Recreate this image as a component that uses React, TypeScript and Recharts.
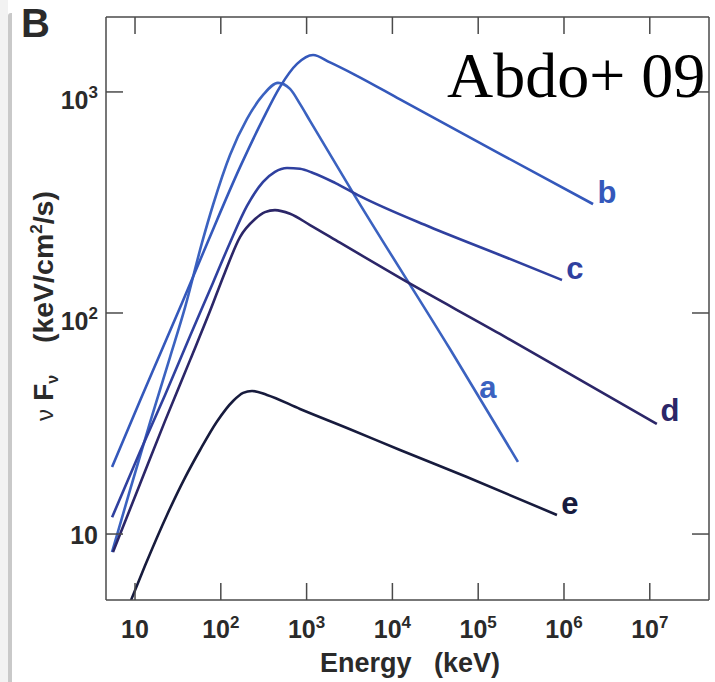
import React from 'react';
import { LineChart, Line, XAxis, YAxis } from 'recharts';

// energy (keV) / nuFnu (keV/cm^2/s)
const aEnergy = [5.4, 8.74, 15.0, 25.6, 38.3, 60.4, 81.1, 128, 202, 311, 464, 641, 837, 1096, 3664, 46900, 291000];
const aFlux = [8.29, 15.8, 32.1, 63.2, 106, 208, 308, 519, 755, 969, 1099, 1032, 883, 740, 338, 68.7, 21.2];

const bEnergy = [5.4, 11.4, 19.6, 35.3, 67.3, 168, 311, 490, 773, 1189, 1874, 3664, 12270, 179500, 2180000];
const bFlux = [20.1, 40.0, 65.2, 111, 201, 458, 755, 1054, 1339, 1469, 1360, 1195, 925, 525, 311];

const cEnergy = [5.4, 11.4, 22.4, 43.8, 81.1, 128, 202, 311, 428, 591, 837, 1189, 2143, 4190, 27420, 179500, 948000];
const cFlux = [11.9, 23.5, 42.6, 78.7, 137, 208, 305, 392, 435, 453, 449, 430, 388, 338, 245, 183, 141];

const dEnergy = [5.54, 11.4, 22.4, 43.8, 74.8, 112, 168, 251, 327, 428, 641, 1096, 2450, 12270, 179500, 1540000, 12100000];
const dFlux = [8.29, 16.8, 32.5, 61.2, 102, 153, 221, 266, 286, 292, 281, 250, 208, 144, 80.4, 49.8, 31.5];

const eEnergy = [8.98, 13.1, 23.6, 38.3, 57.3, 90.3, 139, 182, 231, 345, 837, 3206, 12270, 73960, 828000];
const eFlux = [5.02, 7.2, 12.2, 18.0, 24.0, 32.3, 40.0, 43.5, 44.4, 42.6, 36.8, 29.8, 24.0, 18.1, 12.2];

const xTicks = [10, 1e2, 1e3, 1e4, 1e5, 1e6, 1e7];
const yTicks = [10, 100, 1000];

const FONT = '"Liberation Sans", Arial, Helvetica, sans-serif';
const AXIS = '#4a4a4a';
const TICK_LEN = 17;

const toPoints = (energy: number[], flux: number[]) => energy.map((e, i) => ({ e, f: flux[i] }));

const series = [
    { name: 'a', data: toPoints(aEnergy, aFlux), color: '#3b62c0', dx: -30, dy: -75 },
    { name: 'b', data: toPoints(bEnergy, bFlux), color: '#3458bb', dx: 14, dy: -12 },
    { name: 'c', data: toPoints(cEnergy, cFlux), color: '#2f409f', dx: 13, dy: -12 },
    { name: 'd', data: toPoints(dEnergy, dFlux), color: '#2b2668', dx: 13, dy: -14 },
    { name: 'e', data: toPoints(eEnergy, eFlux), color: '#171b3d', dx: 13, dy: -12 },
];

const expOf = (v: number) => Math.round(Math.log10(v));

function BottomTick(props: any) {
    const { x, y, payload } = props;
    const p = expOf(payload.value);
    return (
        <g>
            <line x1={x} y1={y} x2={x} y2={y - TICK_LEN} stroke={AXIS} strokeWidth={1.5} />
            <text x={x} y={y + 38} textAnchor="middle" fontFamily={FONT} fontWeight="bold" fontSize={25} fill="#2a2a2a">
                <tspan>10</tspan>
                {p > 1 && <tspan dy={-10} fontSize={17}>{p}</tspan>}
            </text>
        </g>
    );
}

function TopTick(props: any) {
    const { x, y } = props;
    return <line x1={x} y1={y} x2={x} y2={y + TICK_LEN} stroke={AXIS} strokeWidth={1.5} />;
}

function LeftTick(props: any) {
    const { x, y, payload } = props;
    const p = expOf(payload.value);
    return (
        <g>
            <line x1={x} y1={y} x2={x + TICK_LEN} y2={y} stroke={AXIS} strokeWidth={1.5} />
            <text x={98} y={y + (p > 1 ? 17 : 10)} textAnchor="end" fontFamily={FONT} fontWeight="bold" fontSize={25} fill="#2a2a2a">
                <tspan>10</tspan>
                {p > 1 && <tspan dy={-11} fontSize={17}>{p}</tspan>}
            </text>
        </g>
    );
}

function RightTick(props: any) {
    const { x, y } = props;
    return <line x1={x} y1={y} x2={x - TICK_LEN} y2={y} stroke={AXIS} strokeWidth={1.5} />;
}

export default function App() {
    const axisLine = { stroke: AXIS, strokeWidth: 1.5 };
    return (
        <div style={{ position: 'absolute', left: 0, top: 0, width: 715, height: 682, background: '#fff', overflow: 'hidden' }}>
            {/* panel edge on the left */}
            <div style={{ position: 'absolute', left: 0, top: 0, width: 8, height: 682, background: '#f2f2f2' }}></div>
            <div style={{ position: 'absolute', left: 8, top: 13, width: 4, height: 669, background: '#c9c9c9', borderTopLeftRadius: 3 }}></div>

            <div style={{ position: 'absolute', left: 0, top: 0 }}>
                <LineChart width={715} height={682} margin={{ top: 16, right: 5, bottom: 0, left: 0 }}>
                    <XAxis xAxisId="bottom" dataKey="e" type="number" scale="log" domain={[4.59, 4.9e7]} allowDataOverflow
                        ticks={xTicks} interval={0} tick={<BottomTick />} tickLine={false} tickSize={0} tickMargin={0}
                        height={82} axisLine={axisLine} />
                    <XAxis xAxisId="top" orientation="top" dataKey="e" type="number" scale="log" domain={[4.59, 4.9e7]} allowDataOverflow
                        ticks={xTicks} interval={0} tick={<TopTick />} tickLine={false} tickSize={0} tickMargin={0}
                        height={1} axisLine={axisLine} />
                    <YAxis yAxisId="left" type="number" scale="log" domain={[5.03, 2183]} allowDataOverflow
                        ticks={yTicks} interval={0} tick={<LeftTick />} tickLine={false} tickSize={0} tickMargin={0}
                        width={106} axisLine={axisLine} />
                    <YAxis yAxisId="right" orientation="right" type="number" scale="log" domain={[5.03, 2183]} allowDataOverflow
                        ticks={yTicks} interval={0} tick={<RightTick />} tickLine={false} tickSize={0} tickMargin={0}
                        width={1} axisLine={axisLine} />
                    {/* invisible series so the mirrored top/right axes get drawn */}
                    <Line xAxisId="top" yAxisId="right" data={series[4].data} dataKey="f" stroke="none"
                        dot={false} activeDot={false} legendType="none" isAnimationActive={false} />
                    {series.map(s => (
                        <Line
                            key={s.name}
                            xAxisId="bottom"
                            yAxisId="left"
                            data={s.data}
                            dataKey="f"
                            type="monotone"
                            stroke={s.color}
                            strokeWidth={2.6}
                            isAnimationActive={false}
                            activeDot={false}
                            dot={(p: any) => p.index === s.data.length - 1 ? (
                                <text key={p.key} x={p.cx + s.dx} y={p.cy + s.dy + 11} textAnchor="middle"
                                    fontFamily={FONT} fontWeight="bold" fontSize={31} fill={s.color}>{s.name}</text>
                            ) : <g key={p.key} />}
                        />
                    ))}
                </LineChart>
            </div>

            <svg width={715} height={682} style={{ position: 'absolute', left: 0, top: 0, pointerEvents: 'none' }}>
                <text x={21} y={37} fontFamily={FONT} fontWeight="bold" fontSize={40} fill="#2a2a2a">B</text>
                <text x={447} y={97} fontFamily='"Liberation Serif", "Times New Roman", serif' fontSize={64} fill="#000">Abdo+ 09</text>
                <text x={410} y={672} textAnchor="middle" fontFamily={FONT} fontWeight="bold" fontSize={27} fill="#2a2a2a" xmlSpace="preserve">
                    Energy   (keV)
                </text>
                <text transform="translate(53, 421) rotate(-90)" textAnchor="start" fontFamily={FONT} fontWeight="bold" fontSize={28.5} fill="#2a2a2a" xmlSpace="preserve">
                    <tspan fontWeight="normal" fontSize={24}>ν</tspan>
                    <tspan>{' F'}</tspan>
                    <tspan fontSize={16} dy={5}>ν</tspan>
                    <tspan dy={-5}>{'    (keV/cm'}</tspan>
                    <tspan fontSize={17} dy={-11}>2</tspan>
                    <tspan dy={11}>/s)</tspan>
                </text>
            </svg>
        </div>
    );
}
